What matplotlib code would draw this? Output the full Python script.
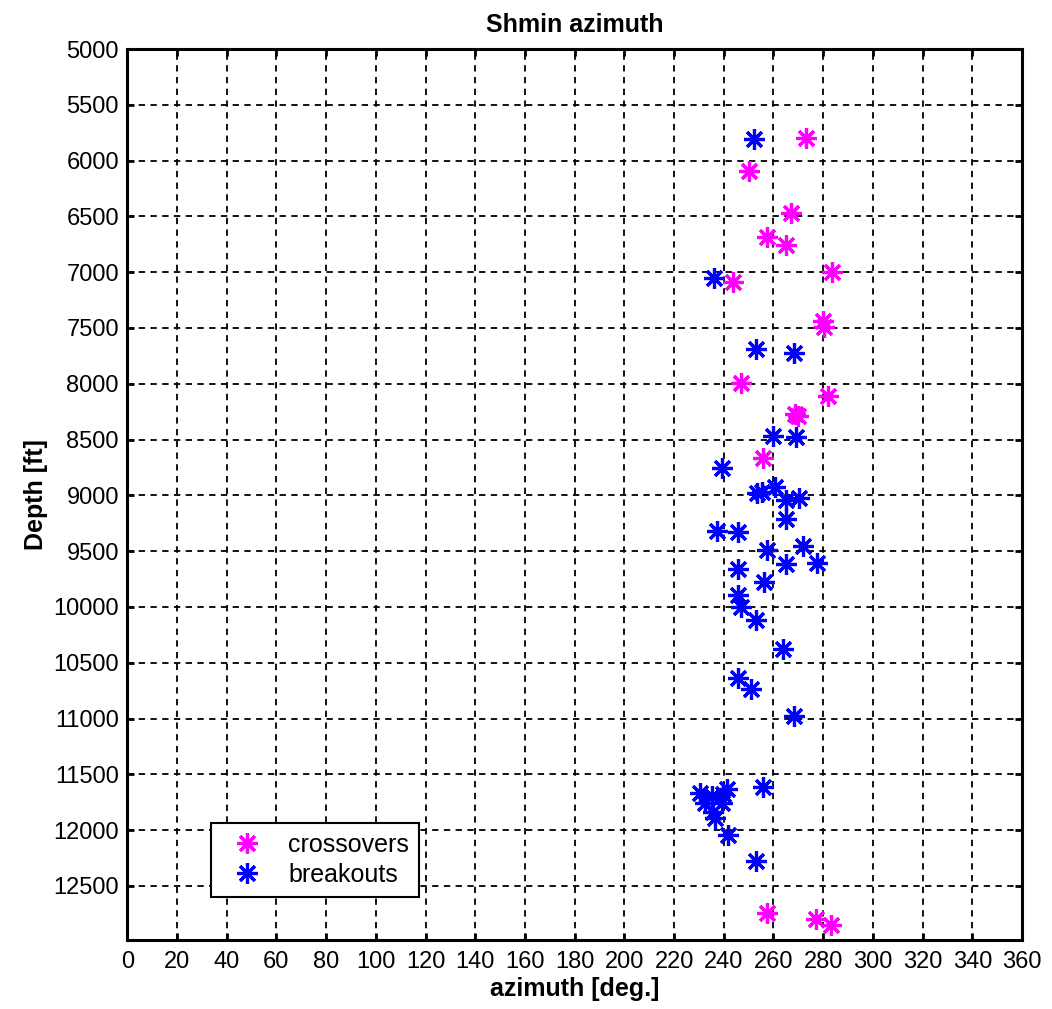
import matplotlib
matplotlib.use('Agg')
import matplotlib.pyplot as plt

plt.rcParams['font.family'] = ['Liberation Sans', 'DejaVu Sans']

# crossovers (magenta)
crossovers_az = [272.9, 250.2, 267.0, 257.4, 265.0, 283.6, 243.8, 280.0, 280.5,
                 281.9, 246.9, 268.6, 270.0, 255.8, 257.4, 277.3, 283.3]
crossovers_depth = [5797, 6096, 6472, 6682, 6756, 6995, 7090, 7440, 7490,
                    8109, 7995, 8270, 8290, 8662, 12744, 12798, 12849]

# breakouts (blue)
breakouts_az = [252.1, 236.0, 252.8, 268.3, 259.9, 269.0, 239.4, 255.2, 253.2,
                260.5, 265.2, 270.3, 265.0, 237.1, 245.8, 257.4, 272.0, 265.0,
                277.7, 245.8, 256.1, 245.8, 247.1, 252.9, 263.9, 245.8, 250.9,
                268.3, 255.8, 230.4, 235.1, 241.1, 239.5, 232.4, 239.1, 235.7,
                236.4, 241.8, 252.8]
breakouts_depth = [5809, 7049, 7691, 7721, 8468, 8479, 8752, 8967, 8976,
                   8922, 9041, 9026, 9214, 9319, 9325, 9489, 9455, 9614,
                   9603, 9662, 9773, 9892, 9997, 10116, 10379, 10639, 10737,
                   10982, 11610, 11669, 11699, 11630, 11680, 11759, 11759, 11834,
                   11893, 12043, 12273]

x_ticks = list(range(0, 361, 20))
y_ticks = list(range(5000, 12501, 500))

fig = plt.figure(figsize=(10.52, 10.09), dpi=100)
ax = fig.add_axes([0.121, 0.0684, 0.8505, 0.883])

star = (8, 2, 0)
ax.plot(crossovers_az, crossovers_depth, linestyle='none', marker=star,
        color='#FF00FF', markersize=15, markeredgewidth=2.3, label='crossovers')
ax.plot(breakouts_az, breakouts_depth, linestyle='none', marker=star,
        color='#0000FF', markersize=15, markeredgewidth=2.3, label='breakouts')

ax.set_xlim(0, 360)
ax.set_ylim(12985, 5000)
ax.set_xticks(x_ticks)
ax.set_yticks(y_ticks)
ax.grid(True, color='black', linestyle=(0, (3.5, 3)), linewidth=1.3)
ax.set_axisbelow(True)

for s in ax.spines.values():
    s.set_linewidth(2.2)
ax.tick_params(direction='in', length=5, width=2, top=True, right=True,
               labelsize=17)
ax.tick_params(axis='x', pad=8)
ax.tick_params(axis='y', pad=6)

ax.set_title('Shmin azimuth', fontsize=18, fontweight='bold', pad=12)
ax.set_xlabel('azimuth [deg.]', fontsize=18, fontweight='bold', labelpad=3)
ax.set_ylabel('Depth [ft]', fontsize=18, fontweight='bold', labelpad=4)

leg = ax.legend(loc='lower left', bbox_to_anchor=(0.093, 0.048), borderaxespad=0,
                fontsize=18, fancybox=False, edgecolor='black', framealpha=1,
                handlelength=2.1, handletextpad=0.6, borderpad=0.4,
                labelspacing=0.25)
leg.get_frame().set_linewidth(1.5)

fig.savefig('out.png', dpi=100, facecolor='white')
